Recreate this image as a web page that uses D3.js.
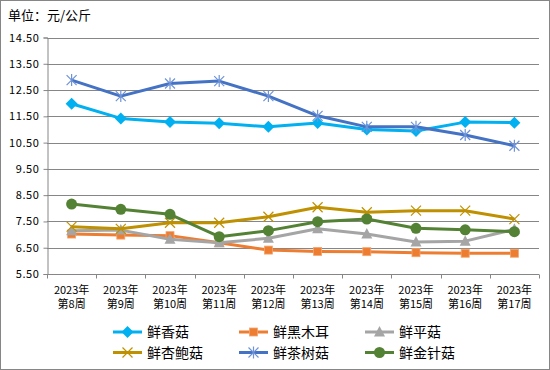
<!DOCTYPE html>
<html>
<head>
<meta charset="utf-8">
<script src="https://cdn.jsdelivr.net/npm/d3@7"></script>
<style>
  body { margin: 0; background: #fff; }
  svg { display: block; font-family: "Noto Sans CJK SC", "DejaVu Sans", sans-serif; }
</style>
</head>
<body>
<svg id="chart" width="550" height="370"></svg>
<script>
var weeks = ["第8周", "第9周", "第10周", "第11周", "第12周", "第13周", "第14周", "第15周", "第16周", "第17周"];
var yearLabel = "2023年";
var yTicks = [5.5, 6.5, 7.5, 8.5, 9.5, 10.5, 11.5, 12.5, 13.5, 14.5];

var xiangGu = [11.98, 11.42, 11.28, 11.24, 11.10, 11.25, 11.00, 10.94, 11.28, 11.26];
var heiMuEr = [7.02, 6.98, 6.96, 6.69, 6.41, 6.36, 6.35, 6.31, 6.29, 6.29];
var pingGu = [7.15, 7.17, 6.82, 6.69, 6.86, 7.22, 7.02, 6.72, 6.75, 7.20];
var xingBaoGu = [7.30, 7.22, 7.45, 7.45, 7.68, 8.04, 7.85, 7.91, 7.91, 7.59];
var chaShuGu = [12.88, 12.27, 12.75, 12.84, 12.27, 11.52, 11.10, 11.10, 10.79, 10.38];
var jinZhenGu = [8.16, 7.96, 7.77, 6.92, 7.15, 7.49, 7.59, 7.24, 7.18, 7.11];

var series = [
  { name: "鲜香菇", values: xiangGu, color: "#00b0f0", marker: "diamond" },
  { name: "鲜黑木耳", values: heiMuEr, color: "#ed7d31", marker: "square" },
  { name: "鲜平菇", values: pingGu, color: "#a5a5a5", marker: "triangle" },
  { name: "鲜杏鲍菇", values: xingBaoGu, color: "#bf9000", marker: "x" },
  { name: "鲜茶树菇", values: chaShuGu, color: "#4472c4", marker: "star" },
  { name: "鲜金针菇", values: jinZhenGu, color: "#548235", marker: "circle" }
];

var svg = d3.select("#chart");
var plotLeft = 47, plotRight = 539, plotTop = 37.5, plotBottom = 274;

// outer border
svg.append("rect")
  .attr("x", 0.5).attr("y", 0.5)
  .attr("width", 549).attr("height", 369)
  .attr("fill", "#fff").attr("stroke", "#868686");

svg.append("text")
  .attr("x", 8).attr("y", 20)
  .attr("font-size", 13).attr("fill", "#000")
  .text("单位：元/公斤");

var x = d3.scaleBand().domain(weeks).range([plotLeft, plotRight]).padding(0);
var y = d3.scaleLinear().domain([5.5, 14.5]).range([plotBottom, plotTop]);

// gridlines
svg.append("g")
  .selectAll("line")
  .data(yTicks)
  .enter()
  .append("line")
  .attr("x1", plotLeft).attr("x2", plotRight)
  .attr("y1", function (d) { return Math.round(y(d)) + 0.5; })
  .attr("y2", function (d) { return Math.round(y(d)) + 0.5; })
  .attr("stroke", "#868686").attr("stroke-width", 1);

// y axis
var yAxis = svg.append("g")
  .attr("transform", "translate(" + (plotLeft + 0.5) + ",0)")
  .call(d3.axisLeft(y).tickValues(yTicks).tickFormat(d3.format(".2f")).tickSize(4).tickPadding(4));
yAxis.select(".domain").attr("stroke", "#868686");
yAxis.selectAll(".tick line").attr("stroke", "#868686");
yAxis.selectAll(".tick text")
  .attr("font-size", 11).attr("fill", "#000")
  .attr("font-family", "Noto Sans CJK SC, DejaVu Sans")
  .style("letter-spacing", "0.6px");

// x axis
var xg = svg.append("g").attr("transform", "translate(0," + (Math.round(plotBottom) + 0.5) + ")");
xg.append("line")
  .attr("x1", plotLeft).attr("x2", plotRight)
  .attr("stroke", "#868686");
var bounds = weeks.map(function (w) { return x(w); }).concat([x.range()[1]]);
xg.selectAll(".xt")
  .data(bounds)
  .enter()
  .append("line")
  .attr("x1", function (d) { return Math.round(d) + 0.5; })
  .attr("x2", function (d) { return Math.round(d) + 0.5; })
  .attr("y1", 0).attr("y2", 4)
  .attr("stroke", "#868686");
xg.selectAll(".xyear")
  .data(weeks)
  .enter()
  .append("text")
  .attr("text-anchor", "middle")
  .attr("font-size", 11).attr("fill", "#000")
  .attr("x", function (d) { return x(d) + x.bandwidth() / 2; })
  .attr("y", 19)
  .text(yearLabel);
xg.selectAll(".xweek")
  .data(weeks)
  .enter()
  .append("text")
  .attr("text-anchor", "middle")
  .attr("font-size", 11).attr("fill", "#000")
  .attr("x", function (d) { return x(d) + x.bandwidth() / 2; })
  .attr("y", 33)
  .text(function (d) { return d; });

function drawMarker(g, type, color) {
  if (type === "diamond") {
    g.append("path").attr("d", "M0,-6L6,0L0,6L-6,0Z").attr("fill", color);
  } else if (type === "square") {
    g.append("rect").attr("x", -4).attr("y", -4).attr("width", 8).attr("height", 8)
      .attr("fill", color).attr("stroke", "#f4a46e").attr("stroke-width", 0.8);
  } else if (type === "triangle") {
    g.append("path").attr("d", "M0,-6L5.5,4.5L-5.5,4.5Z").attr("fill", color);
  } else if (type === "x") {
    g.append("path").attr("d", "M-5,-5L5,5M-5,5L5,-5").attr("stroke", color).attr("stroke-width", 1.2);
  } else if (type === "star") {
    g.append("path").attr("d", "M-5,-5L5,5M-5,5L5,-5M0,-6L0,6")
      .attr("stroke", "#6f93d6").attr("stroke-width", 1.2);
  } else if (type === "circle") {
    g.append("circle").attr("r", 5.5).attr("fill", color);
  }
}

var line = d3.line()
  .x(function (d, i) { return x(weeks[i]) + x.bandwidth() / 2; })
  .y(function (d) { return y(d); });

series.forEach(function (s) {
  var g = svg.append("g");
  g.append("path")
    .attr("d", line(s.values))
    .attr("fill", "none")
    .attr("stroke", s.color)
    .attr("stroke-width", 3)
    .attr("stroke-linejoin", "round");
  s.values.forEach(function (v, i) {
    var m = g.append("g")
      .attr("transform", "translate(" + (x(weeks[i]) + x.bandwidth() / 2) + "," + y(v) + ")");
    drawMarker(m, s.marker, s.color);
  });
});

// legend
var legendCols = [113, 239, 365];
var legendRows = [332, 352.5];
series.forEach(function (s, i) {
  var lx = legendCols[i % 3], ly = legendRows[Math.floor(i / 3)];
  var g = svg.append("g").attr("transform", "translate(" + lx + "," + ly + ")");
  g.append("line").attr("x1", 0).attr("x2", 29).attr("y1", 0).attr("y2", 0)
    .attr("stroke", s.color).attr("stroke-width", 3);
  var m = g.append("g").attr("transform", "translate(14.5,0)");
  drawMarker(m, s.marker, s.color);
  g.append("text")
    .attr("x", 34).attr("y", 5)
    .attr("font-size", 14).attr("fill", "#000")
    .text(s.name);
});
</script>
</body>
</html>
